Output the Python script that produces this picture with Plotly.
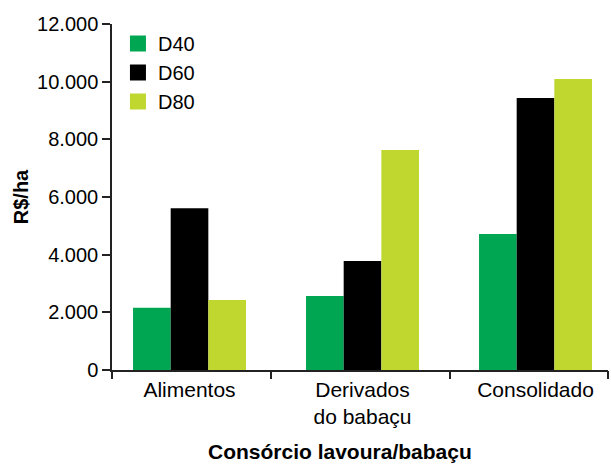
import plotly.graph_objects as go

# Revenue per hectare by intercropping system and planting density
categories = ["Alimentos", "Derivados<br>do babaçu", "Consolidado"]
series_names = ["D40", "D60", "D80"]
d40 = [2160, 2570, 4720]
d60 = [5610, 3780, 9430]
d80 = [2430, 7630, 10090]
series_values = [d40, d60, d80]
colors = ["#00A651", "#000000", "#C0D72F"]

y_ticks = [0, 2000, 4000, 6000, 8000, 10000, 12000]
group_pos = [0, 1, 2]
x_range = [-0.448, 2.419]
boundary_ticks = [-0.448, 0.47, 1.505, 2.419]

FONT = "Liberation Sans, Arial, sans-serif"
AXIS_COLOR = "#222222"

fig = go.Figure()

for name, vals, col in zip(series_names, series_values, colors):
    fig.add_trace(go.Bar(
        x=group_pos, y=vals, name=name,
        marker=dict(color=col, line=dict(width=0)),
        showlegend=False,
    ))
    # square swatch for the legend
    fig.add_trace(go.Scatter(
        x=[None], y=[None], mode="markers", name=name,
        marker=dict(symbol="square", size=16, color=col, line=dict(width=0)),
    ))

fig.update_layout(
    width=611, height=465,
    margin=dict(l=112, r=3, t=24, b=95),
    paper_bgcolor="white", plot_bgcolor="white",
    font=dict(family=FONT, size=20, color="black"),
    separators=",.",
    barmode="group", bargap=0.347, bargroupgap=0,
    showlegend=True,
    legend=dict(
        x=0.012, y=1.0, xanchor="left", yanchor="top",
        bgcolor="rgba(0,0,0,0)", font=dict(size=20),
        tracegroupgap=0, itemsizing="trace",
    ),
    xaxis=dict(
        range=x_range, tickmode="array", tickvals=group_pos, ticktext=categories,
        ticks="", showline=True, linecolor=AXIS_COLOR, linewidth=1.5,
        showgrid=False, zeroline=False, fixedrange=True,
        tickfont=dict(size=21),
    ),
    xaxis2=dict(
        range=x_range, overlaying="x", side="bottom", anchor="y",
        tickmode="array", tickvals=boundary_ticks, showticklabels=False,
        ticks="outside", ticklen=8, tickwidth=1.5, tickcolor=AXIS_COLOR,
        showline=False, showgrid=False, zeroline=False,
    ),
    yaxis=dict(
        range=[0, 12000], tickmode="array", tickvals=y_ticks,
        tickformat=",.0f", ticks="outside", ticklen=8, tickwidth=1.5,
        tickcolor=AXIS_COLOR, showline=True, linecolor=AXIS_COLOR,
        linewidth=1.5, showgrid=False, zeroline=False,
        tickfont=dict(size=20),
        title=dict(text="<b>R$/ha</b>", standoff=3, font=dict(size=20)),
    ),
    annotations=[dict(
        text="<b>Consórcio lavoura/babaçu</b>",
        xref="paper", yref="paper", x=0.46, y=-0.272,
        xanchor="center", yanchor="bottom", showarrow=False,
        font=dict(size=21), borderpad=0,
    )],
)

# invisible trace to activate the boundary tick axis
fig.add_trace(go.Scatter(x=[None], y=[None], xaxis="x2", showlegend=False,
                         hoverinfo="skip"))

fig.write_html("out.html")
